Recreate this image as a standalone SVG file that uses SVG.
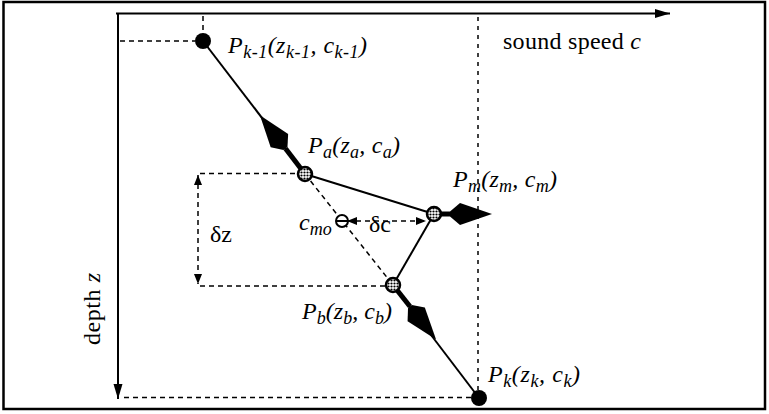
<svg xmlns="http://www.w3.org/2000/svg" width="769" height="414" viewBox="0 0 769 414">
<style>
.frame{fill:none;stroke:#000;stroke-width:2.5}
.axis{fill:none;stroke:#000;stroke-width:2}
.ray{fill:none;stroke:#000;stroke-width:2}
.shaft{fill:none;stroke:#000;stroke-width:5}
.dash{fill:none;stroke:#000;stroke-width:1.5;stroke-dasharray:5 4}
.dot{fill:none;stroke:#000;stroke-width:1.5;stroke-dasharray:4 5}
.lbl{font-family:"Liberation Serif","Times New Roman",serif;font-size:24px;fill:#000}
.it{font-style:italic}
.sub{font-size:18px}
.hollow{fill:url(#stip);stroke:#000;stroke-width:2.5}
.solid{fill:#000}
</style>
<defs>
<pattern id="stip" width="3" height="3" patternUnits="userSpaceOnUse">
<rect width="3" height="3" fill="#fff"/>
<circle cx="1.5" cy="1.5" r="1.1" fill="#000"/>
</pattern>
<marker id="kite" markerUnits="userSpaceOnUse" markerWidth="50" markerHeight="26" viewBox="0 -13 50 26" refX="0" refY="0" orient="auto" overflow="visible">
<path d="M0,-2.5 L10,-11 L42,0 L10,11 L0,2.5 Z" fill="#000" stroke="none"/>
</marker>
<marker id="ax" markerUnits="userSpaceOnUse" markerWidth="16" markerHeight="10" viewBox="0 -5 16 10" refX="15" refY="0" orient="auto" overflow="visible">
<path d="M0,-4.5 L15,0 L0,4.5 Z" fill="#000" stroke="none"/>
</marker>
<marker id="sm" markerUnits="userSpaceOnUse" markerWidth="10" markerHeight="8" viewBox="0 -4 10 8" refX="10" refY="0" orient="auto-start-reverse" overflow="visible">
<path d="M0,-4 L10,0 L0,4 Z" fill="#000" stroke="none"/>
</marker>
</defs>

<rect class="frame" x="3.5" y="2" width="761.5" height="407"/>

<g id="connectors">
<line class="axis" x1="116" y1="13.5" x2="670" y2="13.5" marker-end="url(#ax)"/>
<line class="axis" x1="118" y1="13" x2="118" y2="399" marker-end="url(#ax)"/>
<line class="dash" x1="120" y1="41" x2="195" y2="41"/>
<line class="dash" x1="203" y1="16" x2="203" y2="32"/>
<line class="dot" x1="478" y1="17" x2="478" y2="390"/>
<line class="dash" x1="124" y1="397.5" x2="471" y2="397.5"/>
<line class="dash" x1="200" y1="173.5" x2="298" y2="173.5"/>
<line class="dash" x1="200" y1="286" x2="386" y2="286"/>
<line class="dash" x1="198" y1="175" x2="198" y2="284" marker-start="url(#sm)" marker-end="url(#sm)"/>
<line class="dash" x1="347" y1="221" x2="426" y2="221" marker-start="url(#sm)" marker-end="url(#sm)"/>
<line class="dash" x1="305" y1="174" x2="393" y2="285"/>
<line class="ray" x1="203" y1="41" x2="305" y2="174"/>
<line class="ray" x1="305" y1="174" x2="434" y2="214"/>
<line class="ray" x1="434" y1="214" x2="393" y2="285"/>
<line class="ray" x1="393" y1="285" x2="479" y2="398"/>
<line class="shaft" x1="305" y1="174" x2="285.5" y2="148.6" marker-end="url(#kite)"/>
<line class="shaft" x1="434" y1="214" x2="450" y2="214" marker-end="url(#kite)"/>
<line class="shaft" x1="393" y1="285" x2="410" y2="306.5" marker-end="url(#kite)"/>
</g>

<g id="axis-labels">
<text class="lbl" x="503" y="49" textLength="138">sound speed <tspan class="it">c</tspan></text>
<text class="lbl" transform="translate(100,345) rotate(-90)" x="0" y="0" textLength="72">depth <tspan class="it">z</tspan></text>
</g>

<g id="node-pk1">
<circle class="solid" cx="203" cy="41" r="8"/>
<text class="lbl it" x="228" y="53" textLength="139"><tspan>P</tspan><tspan class="sub" dy="5">k-1</tspan><tspan dy="-5">(z</tspan><tspan class="sub" dy="5">k-1</tspan><tspan dy="-5">, c</tspan><tspan class="sub" dy="5">k-1</tspan><tspan dy="-5">)</tspan></text>
</g>

<g id="node-pa">
<circle class="hollow" cx="305" cy="174" r="7"/>
<text class="lbl it" x="308" y="153" textLength="92"><tspan>P</tspan><tspan class="sub" dy="5">a</tspan><tspan dy="-5">(z</tspan><tspan class="sub" dy="5">a</tspan><tspan dy="-5">, c</tspan><tspan class="sub" dy="5">a</tspan><tspan dy="-5">)</tspan></text>
</g>

<g id="node-pm">
<circle class="hollow" cx="434" cy="214" r="7"/>
<text class="lbl it" x="453" y="187" textLength="104"><tspan>P</tspan><tspan class="sub" dy="5">m</tspan><tspan dy="-5">(z</tspan><tspan class="sub" dy="5">m</tspan><tspan dy="-5">, c</tspan><tspan class="sub" dy="5">m</tspan><tspan dy="-5">)</tspan></text>
</g>

<g id="node-pb">
<circle class="hollow" cx="393" cy="285" r="7"/>
<text class="lbl it" x="302" y="319" textLength="90"><tspan>P</tspan><tspan class="sub" dy="5">b</tspan><tspan dy="-5">(z</tspan><tspan class="sub" dy="5">b</tspan><tspan dy="-5">, c</tspan><tspan class="sub" dy="5">b</tspan><tspan dy="-5">)</tspan></text>
</g>

<g id="node-pk">
<circle class="solid" cx="479" cy="398" r="8"/>
<text class="lbl it" x="488" y="382" textLength="92"><tspan>P</tspan><tspan class="sub" dy="5">k</tspan><tspan dy="-5">(z</tspan><tspan class="sub" dy="5">k</tspan><tspan dy="-5">, c</tspan><tspan class="sub" dy="5">k</tspan><tspan dy="-5">)</tspan></text>
</g>

<g id="node-cmo">
<circle cx="342" cy="221" r="6" fill="#fff" stroke="#000" stroke-width="2"/>
<line x1="337" y1="221" x2="347" y2="221" stroke="#000" stroke-width="2"/>
<text class="lbl it" x="299" y="230"><tspan>c</tspan><tspan class="sub" dy="5">mo</tspan></text>
</g>

<g id="labels-delta">
<text class="lbl" x="369" y="232">δc</text>
<text class="lbl" x="210" y="242">δz</text>
</g>
</svg>
